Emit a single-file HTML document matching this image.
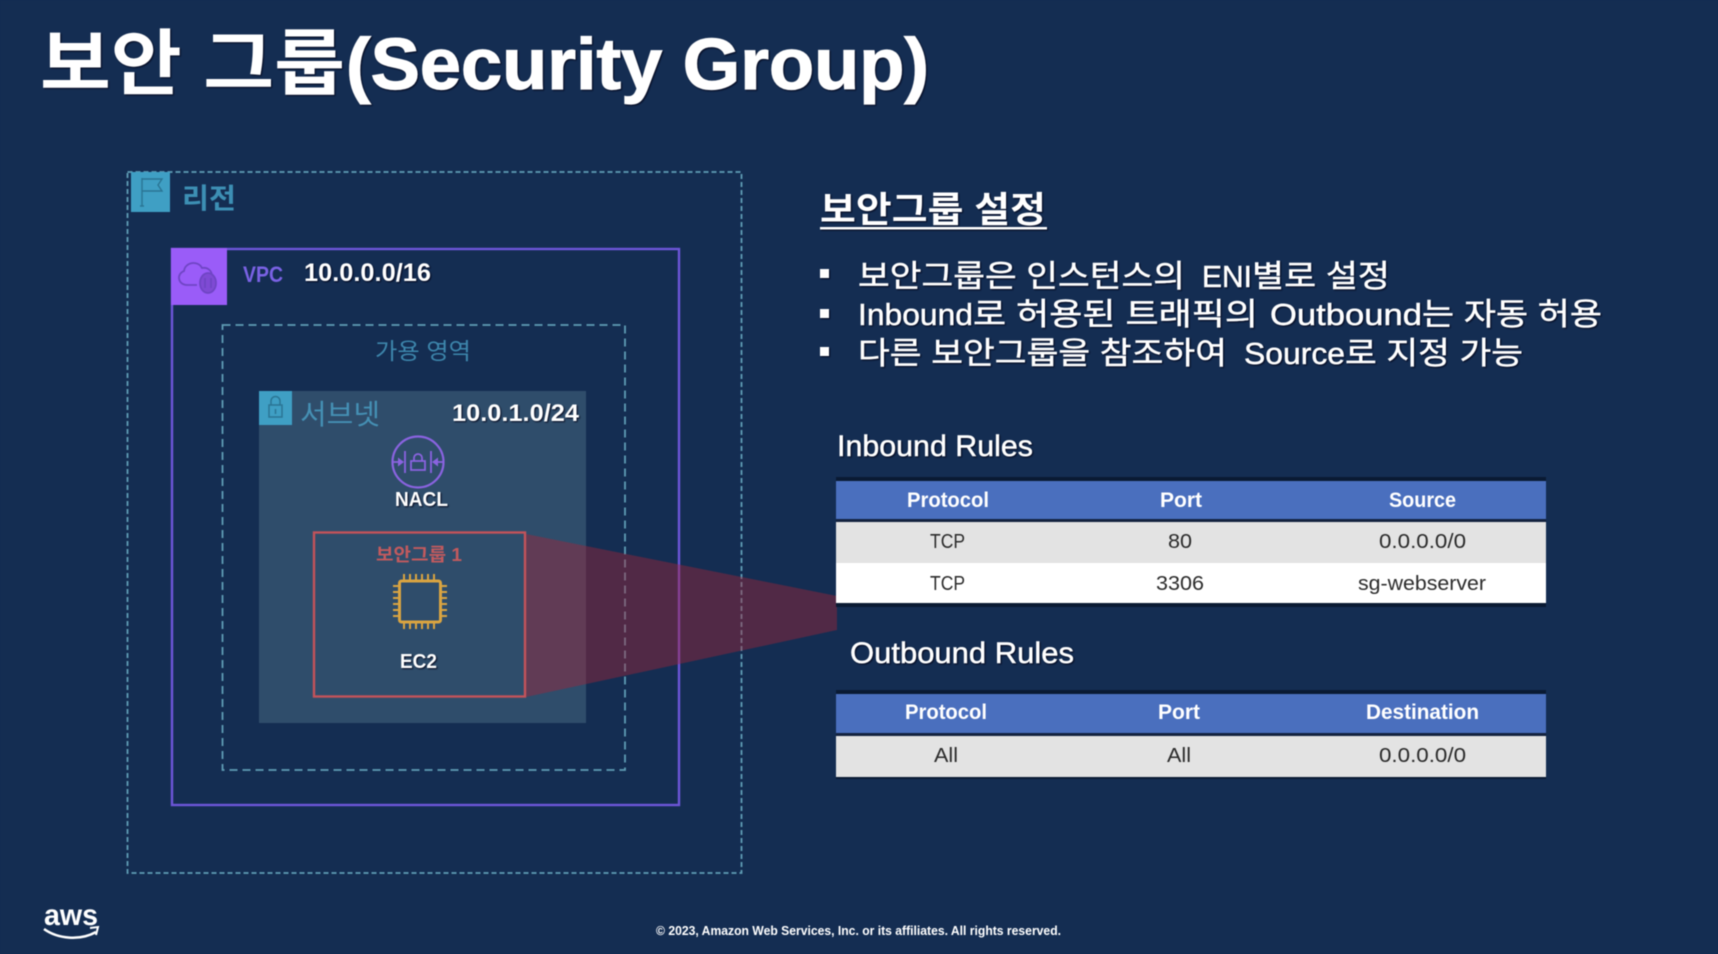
<!DOCTYPE html>
<html lang="ko"><head><meta charset="utf-8"><title>보안 그룹</title>
<style>
html,body{margin:0;padding:0;background:#142d52;width:1718px;height:954px;overflow:hidden}
svg{display:block;filter:blur(.65px)}
text{font-family:"Liberation Sans","Noto Sans CJK KR",sans-serif;fill:#fff}
.b{font-weight:700}
.s{filter:drop-shadow(1px 1px .8px rgba(0,0,20,.85))}
.d{fill:#2b2b2b}
.h{font-weight:700;font-size:21px}
.l{font-size:31px;stroke:#fff;stroke-width:.5px}
</style></head><body>
<svg width="1718" height="954" viewBox="0 0 1718 954" xmlns="http://www.w3.org/2000/svg">
<rect width="1718" height="954" fill="#142d52"/>

<!-- title -->
<g class="s">
<text class="b" x="40" y="89" font-size="72" textLength="305" lengthAdjust="spacingAndGlyphs">보안 그룹</text>
<text class="b" x="346" y="89" font-size="72" stroke="#fff" stroke-width="1.2" textLength="583" lengthAdjust="spacingAndGlyphs">(Security Group)</text>
</g>

<!-- region -->
<rect x="127.5" y="172" width="614" height="701" fill="none" stroke="#5f9db5" stroke-width="1.8" stroke-dasharray="5 3"/>
<rect x="131" y="172" width="39" height="40" fill="#3f9fc4"/>
<g fill="none" stroke="#2a7594" stroke-width="1.4"><path d="M142 178V206M140 206h4M142 179h20l-4 6 4 6h-20"/></g>
<text class="b" x="182" y="208" font-size="28" style="fill:#3d8fb4" textLength="54" lengthAdjust="spacingAndGlyphs">리전</text>

<!-- VPC -->
<rect x="172" y="249" width="507" height="556" fill="none" stroke="#6d55d8" stroke-width="2.4"/>
<rect x="171" y="248" width="56" height="57" fill="#9a5cf8"/>
<g fill="none" stroke="#6f45c4" stroke-width="1.8"><path d="M197 285h-10c-9 0-11-11-3-14 1-9 14-11 18-3 6-1 10 3 10 8"/><ellipse cx="208" cy="283" rx="8" ry="10" fill="#7f4ad4"/><path d="M205 278v10M211 278v10"/></g>
<text class="b" x="243" y="282" font-size="22" style="fill:#7a62e4" textLength="40" lengthAdjust="spacingAndGlyphs">VPC</text>
<g class="s"><text class="b" x="304" y="281" font-size="25" textLength="127" lengthAdjust="spacingAndGlyphs">10.0.0.0/16</text></g>

<!-- AZ -->
<rect x="222.5" y="325" width="402.5" height="445" fill="none" stroke="#5f9db5" stroke-width="1.8" stroke-dasharray="8 5"/>
<text x="375" y="359" font-size="23" style="fill:#3d86ac" textLength="96" lengthAdjust="spacingAndGlyphs">가용 영역</text>

<!-- Subnet -->
<rect x="259" y="391" width="327" height="332" fill="#2f4d6b"/>
<rect x="259" y="391" width="33" height="34" fill="#3f9fc4"/>
<g fill="none" stroke="#2a7594" stroke-width="1.5"><rect x="269" y="405" width="13" height="12"/><path d="M271 405v-4a4.500 4.500 0 0 1 9 0v4M275.500 409v5"/></g>
<text x="300" y="424" font-size="28" style="fill:#4590b4" textLength="80" lengthAdjust="spacingAndGlyphs">서브넷</text>
<g class="s"><text class="b" x="452" y="421" font-size="24" textLength="127" lengthAdjust="spacingAndGlyphs">10.0.1.0/24</text></g>

<!-- NACL -->
<circle cx="418" cy="462" r="25.500" fill="none" stroke="#8a63e0" stroke-width="2.200"/>
<g fill="none" stroke="#8a63e0" stroke-width="1.800"><path d="M405 451v22M431 451v22M393 462h6M437 462h6"/><path d="M411 470v-9h14v9zM414 461v-3a4 4 0 0 1 8 0v3"/></g>
<path d="M404 462l-6-4.500v9zM432 462l6-4.500v9z" fill="#8a63e0"/>
<g class="s"><text class="b" x="395" y="506" font-size="20" textLength="53" lengthAdjust="spacingAndGlyphs">NACL</text></g>

<!-- red beam -->
<polygon points="526,534 837,596 837,630 526,697" fill="#a82438" fill-opacity=".42"/>

<!-- SG -->
<rect x="314" y="532.500" width="211" height="164" fill="none" stroke="#c2535a" stroke-width="2.400"/>
<text class="b" x="376" y="561" font-size="18" style="fill:#c25a5e" textLength="86" lengthAdjust="spacingAndGlyphs">보안그룹 1</text>

<!-- chip -->
<rect x="399.500" y="581" width="41" height="41" rx="2" fill="none" stroke="#d9a441" stroke-width="3"/>
<path d="M404 580v-6M410 580v-6M416 580v-6M422 580v-6M428 580v-6M434 580v-6M404 623v6M410 623v6M416 623v6M422 623v6M428 623v6M434 623v6M399 586h-6M399 592h-6M399 598h-6M399 604h-6M399 610h-6M399 616h-6M441 586h6M441 592h6M441 598h6M441 604h6M441 610h6M441 616h6" stroke="#d9a441" stroke-width="2"/>
<g class="s"><text class="b" x="400" y="668" font-size="20" textLength="37" lengthAdjust="spacingAndGlyphs">EC2</text></g>

<!-- right heading -->
<g class="s">
<text class="b" x="820" y="222" font-size="36" textLength="226" lengthAdjust="spacingAndGlyphs">보안그룹 설정</text>
<rect x="820" y="227" width="227" height="2.500" fill="#fff"/>
<rect x="820" y="269" width="9" height="9" fill="#fff"/>
<rect x="820" y="309" width="9" height="9" fill="#fff"/>
<rect x="820" y="347" width="9" height="9" fill="#fff"/>

<text class="l" x="858" y="287" textLength="327" lengthAdjust="spacingAndGlyphs">보안그룹은 인스턴스의</text>
<text class="l" x="1202" y="287" textLength="50" lengthAdjust="spacingAndGlyphs">ENI</text>
<text class="l" x="1252" y="287" textLength="138" lengthAdjust="spacingAndGlyphs">별로 설정</text>

<text class="l" x="858" y="325" textLength="115" lengthAdjust="spacingAndGlyphs">Inbound</text>
<text class="l" x="973" y="325" textLength="285" lengthAdjust="spacingAndGlyphs">로 허용된 트래픽의</text>
<text class="l" x="1270" y="325" textLength="152" lengthAdjust="spacingAndGlyphs">Outbound</text>
<text class="l" x="1422" y="325" textLength="180" lengthAdjust="spacingAndGlyphs">는 자동 허용</text>

<text class="l" x="858" y="364" textLength="369" lengthAdjust="spacingAndGlyphs">다른 보안그룹을 참조하여</text>
<text class="l" x="1244" y="364" textLength="101" lengthAdjust="spacingAndGlyphs">Source</text>
<text class="l" x="1345" y="364" textLength="178" lengthAdjust="spacingAndGlyphs">로 지정 가능</text>

<text x="837" y="456" font-size="30" stroke="#fff" stroke-width=".5" textLength="196" lengthAdjust="spacingAndGlyphs">Inbound Rules</text>
<text x="850" y="663" font-size="30" stroke="#fff" stroke-width=".5" textLength="224" lengthAdjust="spacingAndGlyphs">Outbound Rules</text>
</g>

<!-- inbound table -->
<rect x="836" y="477" width="710" height="130" fill="#0a1a33"/>
<rect x="836" y="481" width="710" height="38" fill="#4a6fbe"/>
<rect x="836" y="519" width="710" height="3" fill="#14233f"/>
<rect x="836" y="522" width="710" height="41" fill="#e3e3e3"/>
<rect x="836" y="563" width="710" height="40" fill="#fff"/>
<text class="h" x="907" y="507" textLength="82" lengthAdjust="spacingAndGlyphs">Protocol</text>
<text class="h" x="1160" y="507" textLength="42" lengthAdjust="spacingAndGlyphs">Port</text>
<text class="h" x="1389" y="507" textLength="67" lengthAdjust="spacingAndGlyphs">Source</text>
<text class="d" x="930" y="548" font-size="20" textLength="35" lengthAdjust="spacingAndGlyphs">TCP</text>
<text class="d" x="1168" y="548" font-size="20" textLength="24" lengthAdjust="spacingAndGlyphs">80</text>
<text class="d" x="1379" y="548" font-size="20" textLength="87" lengthAdjust="spacingAndGlyphs">0.0.0.0/0</text>
<text class="d" x="930" y="590" font-size="20" textLength="35" lengthAdjust="spacingAndGlyphs">TCP</text>
<text class="d" x="1156" y="590" font-size="20" textLength="48" lengthAdjust="spacingAndGlyphs">3306</text>
<text class="d" x="1358" y="590" font-size="20" textLength="128" lengthAdjust="spacingAndGlyphs">sg-webserver</text>

<!-- outbound table -->
<rect x="836" y="690" width="710" height="89" fill="#0a1a33"/>
<rect x="836" y="694" width="710" height="39" fill="#4a6fbe"/>
<rect x="836" y="733" width="710" height="3" fill="#14233f"/>
<rect x="836" y="736" width="710" height="41" fill="#e3e3e3"/>
<text class="h" x="905" y="719" textLength="82" lengthAdjust="spacingAndGlyphs">Protocol</text>
<text class="h" x="1158" y="719" textLength="42" lengthAdjust="spacingAndGlyphs">Port</text>
<text class="h" x="1366" y="719" textLength="113" lengthAdjust="spacingAndGlyphs">Destination</text>
<text class="d" x="934" y="762" font-size="20" textLength="24" lengthAdjust="spacingAndGlyphs">All</text>
<text class="d" x="1167" y="762" font-size="20" textLength="24" lengthAdjust="spacingAndGlyphs">All</text>
<text class="d" x="1379" y="762" font-size="20" textLength="87" lengthAdjust="spacingAndGlyphs">0.0.0.0/0</text>

<!-- footer -->
<text class="b" x="44" y="925" font-size="30" textLength="54" lengthAdjust="spacingAndGlyphs">aws</text>
<path d="M44 929c14 10 36 12 52 3" fill="none" stroke="#fff" stroke-width="2.600"/>
<path d="M90 928l8-1-2 8" fill="none" stroke="#fff" stroke-width="2"/>
<text class="b" x="656" y="935" font-size="13" textLength="405" lengthAdjust="spacingAndGlyphs">© 2023, Amazon Web Services, Inc. or its affiliates. All rights reserved.</text>
</svg>
</body></html>
